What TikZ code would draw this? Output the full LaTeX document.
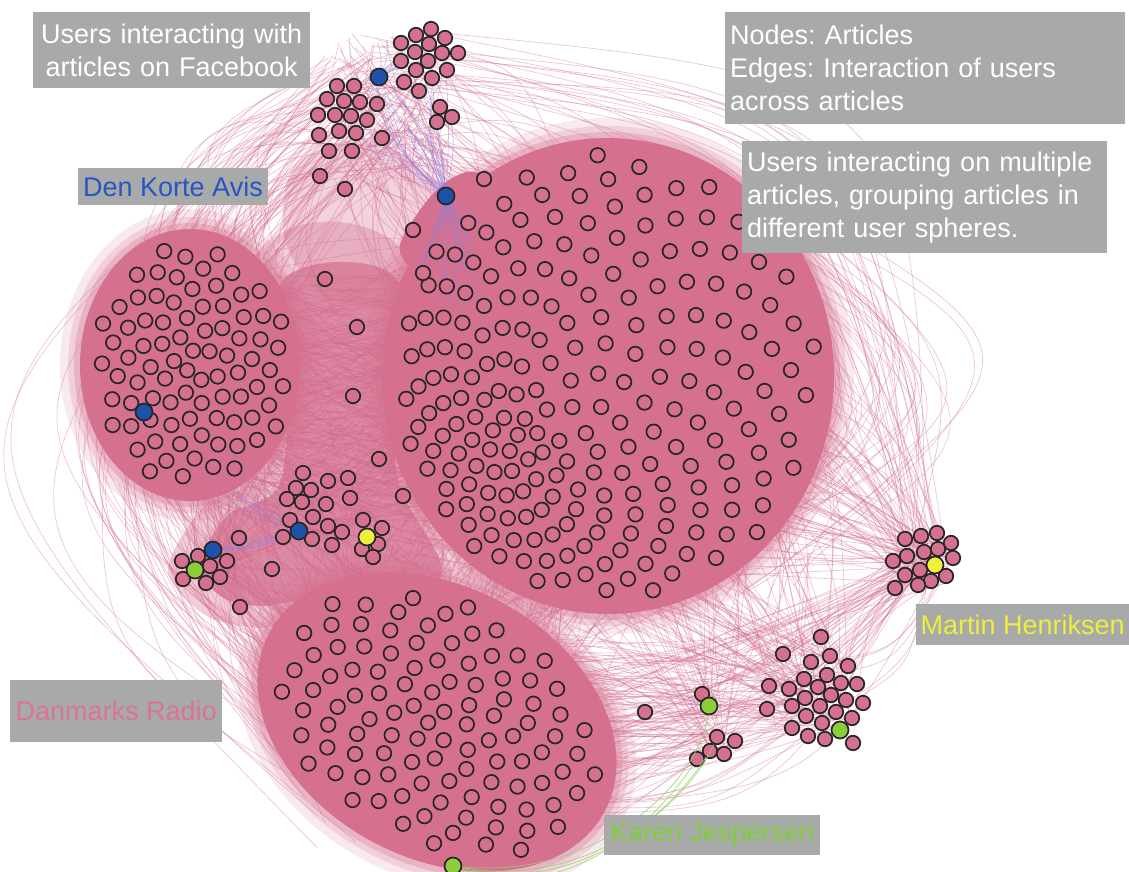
\documentclass[tikz,border=0pt]{standalone}
\usepackage{fontspec}
\setmainfont{Liberation Sans}
\frenchspacing
\definecolor{artpink}{RGB}{213,112,143}
\definecolor{edgepink}{RGB}{210,105,140}
\definecolor{boxgray}{RGB}{168,170,170}
\definecolor{kblue}{RGB}{30,82,170}
\definecolor{kyellow}{RGB}{240,240,60}
\definecolor{kgreen}{RGB}{140,205,60}
\definecolor{tblue}{RGB}{40,85,195}
\definecolor{tyellow}{RGB}{238,238,60}
\definecolor{tgreen}{RGB}{130,205,55}
\definecolor{tpink}{RGB}{218,115,150}
\definecolor{fanblue}{RGB}{140,130,230}
\definecolor{fangreen}{RGB}{150,210,110}
\tikzset{
  art/.style={circle,draw=black!85,fill=artpink,line width=1.7pt,minimum size=14.5pt,inner sep=0pt},
  keyblue/.style={art,fill=kblue,minimum size=17pt},
  keyyellow/.style={art,fill=kyellow,minimum size=17pt},
  keygreen/.style={art,fill=kgreen,minimum size=17pt},
  edge/.style={draw=edgepink,opacity=0.4,line width=0.65pt},
  greenfan/.style={draw=fangreen,opacity=0.8,line width=0.8pt},
  lbl/.style={fill=boxgray,inner xsep=5pt,inner ysep=0pt,anchor=north west,font=\fontsize{27}{33}\selectfont},
}
\newcommand\edgeset[9]{%
  \foreach \ei in {1,...,#1}{%
    \pgfmathsetmacro\edXa{#2+#4*rand}%
    \pgfmathsetmacro\edYa{#3+#5*rand}%
    \pgfmathsetmacro\edXb{#6+#8*rand}%
    \pgfmathsetmacro\edYb{#7+#9*rand}%
    \pgfmathsetmacro\edS{\bbase+\bamt*rand}%
    \pgfmathsetmacro\edXc{(\edXa+\edXb)/2-(\edYb-\edYa)*\edS}%
    \pgfmathsetmacro\edYc{(\edYa+\edYb)/2+(\edXb-\edXa)*\edS}%
    \draw[edge] (\edXa,\edYa) .. controls (\edXc,\edYc) .. (\edXb,\edYb);
  }}
\newcommand\sunflower[8]{%
  \foreach \phK in {1,...,#2}{%
    \pgfmathsetmacro\phR{((\phK-0.5)/#2)^0.53}%
    \pgfmathsetmacro\phF{\phK*0.381966}%
    \pgfmathsetmacro\phT{360*(\phF-floor(\phF))}%
    \pgfmathsetmacro\phX{#3+#5*(\phR*cos(\phT)+(#7)*(1-\phR))}%
    \pgfmathsetmacro\phY{#4+#6*(\phR*sin(\phT)+(#8)*(1-\phR))}%
    \node[art] (#1\phK) at (\phX,\phY) {};
  }}
\begin{document}
\begin{tikzpicture}[x=1pt,y=-1pt]
\useasboundingbox (0,0) rectangle (1129,872);
\fill[white] (0,0) rectangle (1129,872);
\pgfmathsetseed{4242}
% ---------- haze of dense edges between clusters ----------
\fill[artpink,opacity=0.3] plot[smooth cycle] coordinates {(295,165) (370,140) (445,195) (425,300) (330,300) (285,240)};
\fill[artpink,opacity=0.35] plot[smooth cycle] coordinates {(265,250) (340,222) (412,268) (408,470) (452,575) (400,625) (320,615) (262,628) (205,615) (168,570) (205,505) (262,478) (275,400)};
\fill[artpink,opacity=0.7] plot[smooth cycle] coordinates {(280,285) (345,262) (402,292) (396,470) (442,568) (400,606) (320,598) (262,606) (222,597) (198,566) (228,515) (278,488) (288,400)};
% ---------- edges ----------
\def\bbase{0}\def\bamt{0.35}
\edgeset{110}{390}{110}{60}{70}{540}{300}{150}{130}
\def\bbase{0}\def\bamt{0.3}
\edgeset{40}{390}{90}{60}{60}{390}{90}{60}{60}
\def\bbase{0.25}\def\bamt{0.2}
\edgeset{70}{380}{110}{60}{60}{200}{330}{90}{100}
\def\bbase{0.52}\def\bamt{0.1}
\edgeset{40}{370}{100}{60}{50}{420}{760}{120}{90}
\def\bbase{0.15}\def\bamt{0.2}
\edgeset{80}{190}{420}{80}{70}{400}{720}{130}{110}
\def\bbase{0}\def\bamt{0.15}
\edgeset{200}{220}{380}{70}{110}{560}{400}{150}{170}
\edgeset{150}{450}{680}{120}{90}{600}{430}{170}{150}
\def\bbase{0.12}\def\bamt{0.22}
\edgeset{60}{925}{562}{25}{22}{640}{380}{170}{180}
\def\bbase{-0.1}\def\bamt{0.2}
\edgeset{40}{925}{562}{25}{22}{480}{720}{110}{100}
\def\bbase{0}\def\bamt{0.15}
\edgeset{20}{925}{562}{25}{22}{200}{400}{80}{90}
\def\bbase{0}\def\bamt{0.25}
\edgeset{60}{815}{690}{40}{40}{640}{420}{170}{180}
\def\bbase{0}\def\bamt{0.2}
\edgeset{60}{815}{690}{40}{40}{470}{720}{120}{100}
\def\bbase{0}\def\bamt{0.1}
\edgeset{20}{815}{690}{40}{40}{200}{420}{80}{80}
\def\bbase{0}\def\bamt{0.3}
\edgeset{20}{815}{690}{40}{40}{925}{562}{25}{22}
\def\bbase{0}\def\bamt{0.25}
\edgeset{20}{715}{745}{15}{12}{470}{740}{110}{100}
\edgeset{20}{715}{745}{15}{12}{640}{450}{150}{140}
\edgeset{15}{709}{706}{8}{8}{640}{450}{150}{140}
\edgeset{15}{709}{706}{8}{8}{470}{740}{110}{100}
\def\bbase{0}\def\bamt{0.2}
\edgeset{50}{320}{515}{40}{35}{560}{380}{150}{170}
\edgeset{40}{320}{515}{40}{35}{430}{720}{120}{100}
\edgeset{40}{320}{515}{40}{35}{190}{370}{90}{110}
\edgeset{20}{205}{565}{20}{15}{190}{370}{90}{110}
\edgeset{20}{205}{565}{20}{15}{430}{720}{120}{100}
\edgeset{20}{205}{565}{20}{15}{560}{380}{150}{170}
\def\bbase{-0.6}\def\bamt{0.15}
\edgeset{40}{700}{220}{80}{40}{720}{560}{80}{40}
\def\bbase{-0.35}\def\bamt{0.1}
\edgeset{20}{400}{60}{40}{30}{925}{562}{25}{22}
% ---------- dense clusters (soft rims, then solid core) ----------
\foreach \rr/\op in {20/0.15,12/0.2,6/0.3}{
  \fill[artpink,opacity=\op] (608,376) ellipse [x radius={226pt+\rr pt},y radius={238pt+\rr pt}];
  \fill[artpink,opacity=\op] (190,365) ellipse [x radius={110pt+\rr pt},y radius={136pt+\rr pt}];
  \begin{scope}[shift={(437,722)},rotate=-28]
    \fill[artpink,opacity=\op] (0,0) ellipse [x radius={190pt+\rr pt},y radius={136pt+\rr pt}];
  \end{scope}
}
\fill[artpink] (608,376) ellipse [x radius=226pt,y radius=238pt];
\fill[artpink] plot[smooth cycle] coordinates {(446,182) (475,172) (505,200) (445,290) (400,252) (420,210)};
\fill[artpink] (190,365) ellipse [x radius=110pt,y radius=136pt];
\begin{scope}[shift={(437,722)},rotate=-28]
  \fill[artpink] (0,0) ellipse [x radius=190pt,y radius=136pt];
\end{scope}
% ---------- blue fans ----------
\begin{scope}[edge/.style={draw=fanblue,opacity=0.5,line width=0.6pt}]
  \def\bbase{0}\def\bamt{0.15}
  \edgeset{25}{446}{196}{0}{0}{450}{280}{40}{60}
  \edgeset{25}{446}{196}{0}{0}{400}{100}{50}{50}
  \edgeset{10}{379}{77}{0}{0}{405}{65}{30}{30}
  \edgeset{6}{213}{550}{0}{0}{298}{530}{0}{0}
  \edgeset{6}{298}{530}{0}{0}{240}{470}{40}{30}
\end{scope}
% ---------- nodes ----------
\sunflower{b}{215}{608}{376}{210}{222}{-0.32}{0.24}
\sunflower{l}{84}{192}{365}{98}{120}{0}{0}
\begin{scope}[shift={(437,722)},rotate=-28]
  \sunflower{d}{105}{0}{0}{172}{118}{0}{0}
\end{scope}
\foreach \p [count=\i] in {(431,29),(416,35),(445,38),(401,43),(429,44),(415,52),(442,53),(458,53),(401,61),(428,61),(416,70),(447,70),(404,82),(432,78),(419,91),
  (337,86),(354,86),(327,99),(344,101),(360,102),(377,104),(318,115),(335,115),(351,116),(367,120),(319,135),(339,131),(356,133),(382,138),(329,151),(352,151),(320,176),(345,189),
  (440,107),(452,117),(437,122),(484,179)}
  \node[art] (t\i) at \p {};
\foreach \p [count=\i] in {(325,279),(357,327),(353,396),(413,230),(423,273),(379,459),(403,496),(240,607)}
  \node[art] (x\i) at \p {};
\foreach \p [count=\i] in {(303,473),(296,488),(311,490),(328,481),(348,478),(287,499),(302,502),(326,504),(350,498),(313,517),(290,520),(328,526),(342,532),(283,537),(312,539),(332,545),(363,520),(382,528),(378,544),(362,549),(373,557)}
  \node[art] (c\i) at \p {};
\foreach \p [count=\i] in {(182,561),(198,556),(210,566),(227,561),(183,579),(206,583),(220,577),(239,538),(272,569)}
  \node[art] (k\i) at \p {};
\foreach \p [count=\i] in {(905,539),(921,536),(937,533),(951,543),(907,556),(924,552),(938,549),(953,558),(893,561),(920,570),(905,575),(946,576),(931,581),(918,585),(895,588)}
  \node[art] (m\i) at \p {};
\foreach \p [count=\i] in {(821,637),(783,654),(830,656),(811,662),(848,666),(804,679),(827,675),(857,684),(841,683),(818,687),(789,689),(769,686),(831,695),(805,698),(846,700),(863,703),(792,706),(820,706),(836,712),(806,716),(767,709),(852,718),(822,723),(792,728),(808,736),(825,739),(853,743)}
  \node[art] (r\i) at \p {};
\foreach \p [count=\i] in {(717,737),(735,741),(710,751),(724,754),(697,759),(702,694),(645,712)}
  \node[art] (s\i) at \p {};
\node[keyblue] (kb1) at (379,77) {};
\node[keyblue] (kb2) at (446,196) {};
\node[keyblue] (kb3) at (144,412) {};
\node[keyblue] (kb4) at (299,531) {};
\node[keyblue] (kb5) at (213,550) {};
\node[keyyellow] (ky1) at (367,537) {};
\node[keyyellow] (ky2) at (935,565) {};
\node[keygreen] (kg1) at (195,570) {};
\node[keygreen] (kg2) at (709,706) {};
\node[keygreen] (kg3) at (840,730) {};
\node[keygreen] (kg4) at (453,866) {};
% green connectors
\draw[greenfan] (kg4) .. controls (560,905) and (650,830) .. (s5);
\draw[greenfan] (kg4) .. controls (575,895) and (665,820) .. (s3);
\draw[greenfan] (kg4) .. controls (590,890) and (690,800) .. (s1);
\draw[greenfan] (kg4) .. controls (600,880) and (700,780) .. (kg2);
% ---------- labels ----------
\node[lbl,text=white,text width=267pt,align=center,minimum height=76pt] (lab1) at (33,12) {Users interacting with\\articles on Facebook};
\node[lbl,text=white,text width=390pt,align=left,minimum height=112pt] (lab2) at (725,12) {Nodes: Articles\\Edges: Interaction of users\\across articles};
\node[lbl,text=white,text width=355pt,align=left,minimum height=112pt] (lab3) at (742,141) {Users interacting on multiple\\articles, grouping articles in\\different user spheres.};
\node[lbl,text=tblue,minimum width=188pt,minimum height=37pt] (lab4) at (78,168) {Den Korte Avis};
\node[lbl,text=tyellow,inner xsep=3pt,minimum width=213pt,minimum height=41pt] (lab5) at (916,604) {Martin Henriksen};
\node[lbl,text=tpink,minimum width=212pt,minimum height=62pt] (lab6) at (10,680) {Danmarks Radio};
\node[lbl,text=tgreen,minimum width=216pt,minimum height=40pt] (lab7) at (604,815) {Karen Jespersen};
\end{tikzpicture}
\end{document}
